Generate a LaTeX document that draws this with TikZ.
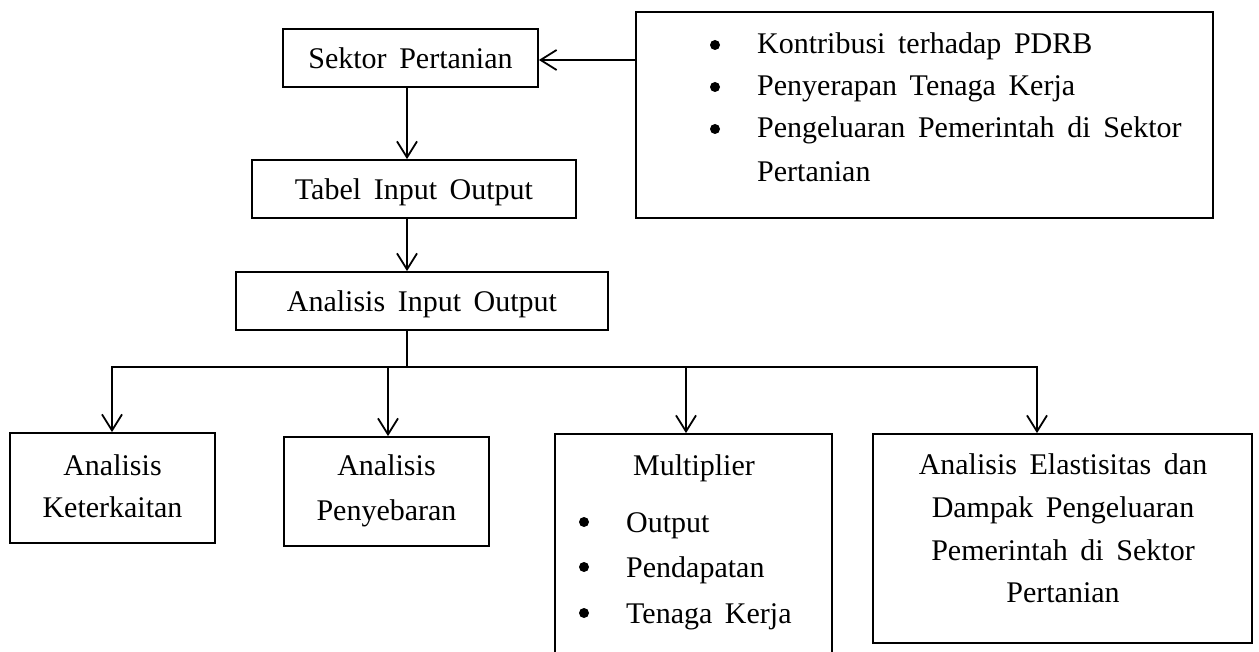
\documentclass[tikz,border=0pt]{standalone}
\usepackage{fontspec}
\setmainfont{Liberation Serif}
\usetikzlibrary{arrows.meta}
\newcommand\dfont{\fontsize{30}{42}\selectfont\spaceskip=.42em plus .1em\relax}
\begin{document}
\begin{tikzpicture}[x=1pt,y=-1pt,
  box/.style={draw, line width=1.8pt, inner sep=0pt, font=\dfont},
  one/.style={text height=21pt, text depth=0pt},
  lbl/.style={font=\dfont, inner sep=0pt, anchor=base},
  lblw/.style={font=\dfont, inner sep=0pt, anchor=base west},
  dot/.style={circle, fill, inner sep=0pt, minimum size=10pt},
  ln/.style={line width=1.8pt},
  arr/.style={line width=1.8pt, -{Straight Barb[length=16pt,width=20pt,line width=1.8pt]}}]
\useasboundingbox (0,0) rectangle (1259,652);
\clip (0,0) rectangle (1259,652);

% boxes
\node[box, one, minimum width=255pt, minimum height=58pt] (sektor) at (410.5,58) {Sektor Pertanian};
\node[box, one, minimum width=324pt, minimum height=58pt] (tabel) at (414,189) {Tabel Input Output};
\node[box, one, minimum width=372pt, minimum height=58pt] (aio) at (422,301) {Analisis Input Output};
\node[box, minimum width=577pt, minimum height=206pt] (info) at (924.5,115) {};
\node[box, minimum width=205pt, minimum height=110pt] (ket) at (112.5,488) {};
\node[box, minimum width=205pt, minimum height=109pt] (pen) at (386.5,491.5) {};
\node[box, minimum width=277pt, minimum height=226pt] (mult) at (693.5,547) {};
\node[box, minimum width=379pt, minimum height=209pt] (ela) at (1062.5,538.5) {};

% texts of the info box
\node[dot] (ib1) at (715,45) {};
\node[lblw] (it1) at (757,54) {Kontribusi terhadap PDRB};
\node[dot] (ib2) at (715,87) {};
\node[lblw] (it2) at (757,96) {Penyerapan Tenaga Kerja};
\node[dot] (ib3) at (715,129) {};
\node[lblw] (it3) at (757,138) {Pengeluaran Pemerintah di Sektor};
\node[lblw] (it4) at (757,182) {Pertanian};

% texts of the lower boxes
\node[lbl] (k1) at (112.5,475) {Analisis};
\node[lbl] (k2) at (112.5,517) {Keterkaitan};
\node[lbl] (p1) at (386.5,475) {Analisis};
\node[lbl] (p2) at (386.5,520) {Penyebaran};
\node[lbl] (m0) at (694,475) {Multiplier};
\node[dot] (mb1) at (584,522) {};
\node[lblw] (m1) at (626,532) {Output};
\node[dot] (mb2) at (584,567) {};
\node[lblw] (m2) at (626,577) {Pendapatan};
\node[dot] (mb3) at (584,613) {};
\node[lblw] (m3) at (626,623) {Tenaga Kerja};
\node[lbl] (e1) at (1063,474) {Analisis Elastisitas dan};
\node[lbl] (e2) at (1063,517) {Dampak Pengeluaran};
\node[lbl] (e3) at (1063,560) {Pemerintah di Sektor};
\node[lbl] (e4) at (1063,602) {Pertanian};

% connectors
\coordinate (spine) at (407,0);
\coordinate (side) at (0,60);
\coordinate (bus) at (407,367);
\coordinate (b1) at (112,367);
\coordinate (b2) at (388,367);
\coordinate (b3) at (686,367);
\coordinate (b4) at (1037,367);
\draw[arr] (info.west |- side) -- (sektor.east |- side);
\draw[arr] (sektor.south -| spine) -- (tabel.north -| spine);
\draw[arr] (tabel.south -| spine) -- (aio.north -| spine);
\draw[ln] (aio.south -| spine) -- (bus);
\draw[ln, line cap=rect] (b1) -- (b4);
\draw[arr] (b1) -- (b1 |- ket.north);
\draw[arr] (b2) -- (b2 |- pen.north);
\draw[arr] (b3) -- (b3 |- mult.north);
\draw[arr] (b4) -- (b4 |- ela.north);
\end{tikzpicture}
\end{document}
